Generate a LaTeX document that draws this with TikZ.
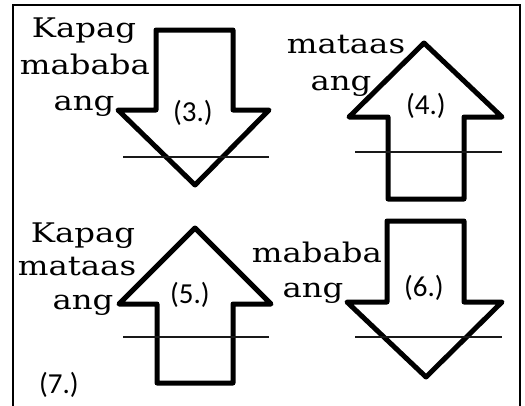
\documentclass[tikz,border=0pt]{standalone}
\usepackage{fontspec}
\newfontfamily\lblfont[FakeStretch=1.2]{DejaVu Serif}
\newfontfamily\numfont{Carlito}
\begin{document}
\begin{tikzpicture}[x=1pt,y=-1pt,
  word/.style={font=\lblfont\fontsize{27}{30}\selectfont, anchor=base, inner sep=0pt},
  num/.style={font=\numfont\fontsize{29}{32}\selectfont, inner sep=0pt},
  bigarrow/.style={line width=5pt, line join=round},
  rule/.style={line width=1.1pt, black!90}]
\useasboundingbox (0,0) rectangle (525,405);
\clip (0,0) rectangle (525,405);
\draw[line width=2pt] (13,5) rectangle (520,420);
% arrow 3 (down)
\draw[bigarrow] (156,30) -- (233,30) -- (233,110) -- (269,110) -- (195,185) -- (118,110) -- (156,110) -- cycle;
\draw[rule] (123,157) -- (269,157);
\node[num] (n3) at (193,113) {(3.)};
\node[word] (t3a) at (84,37) {Kapag};
\node[word] (t3b) at (85,74) {mababa};
\node[word] (t3c) at (84,110) {ang};
% arrow 4 (up)
\draw[bigarrow] (424,43) -- (502,117) -- (464,117) -- (464,199) -- (388,199) -- (388,117) -- (349,117) -- cycle;
\draw[rule] (355,152) -- (502,152);
\node[num] (n4) at (426,106) {(4.)};
\node[word] (t4a) at (346,53) {mataas};
\node[word] (t4b) at (341,90) {ang};
% arrow 5 (up)
\draw[bigarrow] (195,228) -- (271,304) -- (233,304) -- (233,383) -- (157,383) -- (157,304) -- (119,304) -- cycle;
\draw[rule] (123,337) -- (269,337);
\node[num] (n5) at (190,295) {(5.)};
\node[word] (t5a) at (83,242) {Kapag};
\node[word] (t5b) at (77,275) {mataas};
\node[word] (t5c) at (83,309) {ang};
\node[num] (n7) at (59,385) {(7.)};
% arrow 6 (down)
\draw[bigarrow] (387,221) -- (464,221) -- (464,302) -- (502,302) -- (426,377) -- (347,302) -- (387,302) -- cycle;
\draw[rule] (355,337) -- (502,337);
\node[num] (n6) at (424,288) {(6.)};
\node[word] (t6a) at (317,262) {mababa};
\node[word] (t6b) at (313,297) {ang};
\end{tikzpicture}
\end{document}
